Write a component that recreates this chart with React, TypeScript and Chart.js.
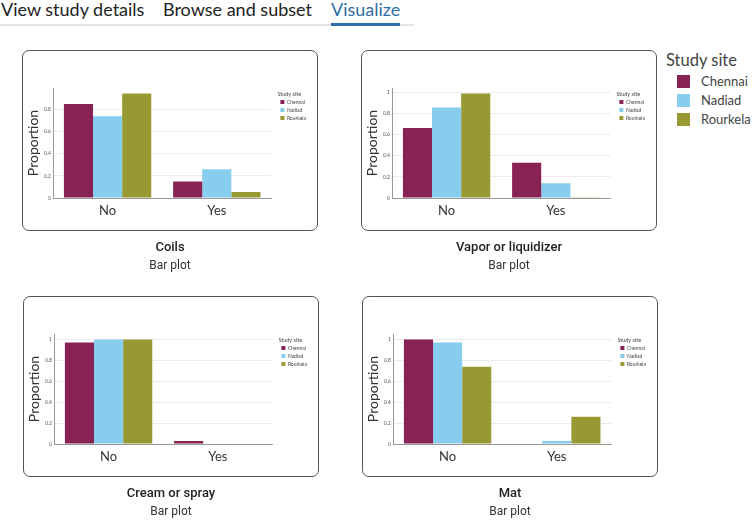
import React, { useEffect, useRef } from 'react';
import { Chart, registerables } from 'chart.js';

Chart.register(...registerables);
Chart.defaults.font.family = 'Lato';

// ---- data ----
const categories = ['No', 'Yes'];
const sites = ['Chennai', 'Nadiad', 'Rourkela'];
const siteColors = ['#882255', '#88CCEE', '#999933'];
const tabs = ['View study details', 'Browse and subset', 'Visualize'];
const yTickStep = 0.2;

const coilsChennai = [0.85, 0.15];
const coilsNadiad = [0.74, 0.26];
const coilsRourkela = [0.945, 0.055];

const vaporChennai = [0.665, 0.335];
const vaporNadiad = [0.86, 0.14];
const vaporRourkela = [0.992, 0.008];

const creamChennai = [0.972, 0.028];
const creamNadiad = [1, 0];
const creamRourkela = [1, 0];

const matChennai = [1, 0];
const matNadiad = [0.972, 0.028];
const matRourkela = [0.74, 0.26];

const panelTitles = ['Coils', 'Vapor or liquidizer', 'Cream or spray', 'Mat'];
const panelSeries = [
  [coilsChennai, coilsNadiad, coilsRourkela],
  [vaporChennai, vaporNadiad, vaporRourkela],
  [creamChennai, creamNadiad, creamRourkela],
  [matChennai, matNadiad, matRourkela],
];

// ---- layout ----
const cardBoxes = [
  { left: 22, top: 50, width: 296, height: 181 },
  { left: 361, top: 50, width: 296, height: 181 },
  { left: 23, top: 296, width: 296, height: 181 },
  { left: 362, top: 296, width: 296, height: 181 },
];
const PLOT_LEFT = 31;
const PLOT_TOP = 38;
const PLOT_BOTTOM = 148;

function BarCard({ title, series, box }: { title: string; series: number[][]; box: any }) {
  const ref = useRef<HTMLCanvasElement>(null);
  useEffect(() => {
    const canvas = ref.current!;
    const maxVal = Math.max(...series.flat());
    const H = box.height;
    const chart = new Chart(canvas, {
      type: 'bar',
      data: {
        labels: categories,
        datasets: sites.map((s, i) => ({
          label: s,
          data: series[i],
          backgroundColor: siteColors[i],
          borderWidth: 0,
          categoryPercentage: 0.8,
          barPercentage: 1,
        })),
      },
      options: {
        responsive: false,
        maintainAspectRatio: false,
        animation: false,
        layout: { padding: { left: 0, top: PLOT_TOP, right: 2, bottom: 0 } },
        plugins: {
          tooltip: { enabled: false },
          legend: {
            position: 'right',
            align: 'start',
            title: {
              display: true,
              text: 'Study site',
              position: 'start',
              color: '#444',
              font: { family: 'Lato', size: 5.5, lineHeight: 1 },
              padding: { top: 3, bottom: 0 },
            },
            labels: {
              boxWidth: 4,
              boxHeight: 4,
              padding: 3,
              color: '#444',
              font: { family: 'Lato', size: 5 },
            },
          },
        },
        scales: {
          x: {
            grid: { display: false, drawTicks: false },
            border: { color: '#999', width: 1 },
            ticks: { padding: 5, color: '#333', font: { family: 'Lato', size: 13 } },
            afterFit: (s: any) => {
              s.height = H - PLOT_BOTTOM;
            },
          },
          y: {
            min: 0,
            max: maxVal * 1.053,
            ticks: {
              stepSize: yTickStep,
              includeBounds: false,
              autoSkip: false,
              padding: 2,
              color: '#555',
              font: { family: 'Lato', size: 5 },
              callback: (v: any) => String(Number(Number(v).toFixed(2))),
            },
            grid: {
              drawTicks: false,
              color: (c: any) => (c.tick && c.tick.value === 0 ? 'rgba(0,0,0,0)' : '#ececec'),
            },
            border: { color: '#999', width: 1 },
            title: {
              display: true,
              text: 'Proportion',
              color: '#333',
              font: { family: 'Lato', size: 14 },
              padding: { top: 3, bottom: 0 },
            },
            afterFit: (s: any) => {
              s.width = PLOT_LEFT;
            },
          },
          yPad: {
            type: 'linear',
            position: 'right',
            display: true,
            grid: { display: false },
            border: { display: false },
            ticks: { display: false },
            afterFit: (s: any) => {
              s.width = 6;
            },
          },
        },
      } as any,
    });
    return () => chart.destroy();
  }, []);

  const bottom = box.top + box.height;
  return (
    <>
      <div style={{ position: 'absolute', left: box.left, top: box.top, width: box.width, height: box.height }}>
        <canvas
          ref={ref}
          width={box.width}
          height={box.height}
          style={{ position: 'absolute', left: 0, top: 0, width: box.width, height: box.height }}
        />
        <div
          style={{
            position: 'absolute',
            left: 0,
            top: 0,
            width: box.width,
            height: box.height,
            boxSizing: 'border-box',
            border: '1.5px solid #555',
            borderRadius: 7,
            pointerEvents: 'none',
          }}
        />
      </div>
      <div
        style={{
          position: 'absolute',
          left: box.left,
          top: bottom + 8,
          width: box.width,
          height: 16,
          lineHeight: '16px',
          textAlign: 'center',
          fontFamily: 'Roboto',
          fontWeight: 500,
          fontSize: 13,
          color: '#222',
        }}
      >
        {title}
      </div>
      <div
        style={{
          position: 'absolute',
          left: box.left,
          top: bottom + 26,
          width: box.width,
          height: 16,
          lineHeight: '16px',
          textAlign: 'center',
          fontFamily: 'Roboto',
          fontSize: 12,
          color: '#333',
        }}
      >
        Bar plot
      </div>
    </>
  );
}

const tabLefts = [1, 163, 331];

export default function App() {
  return (
    <div
      style={{
        position: 'absolute',
        left: 0,
        top: 0,
        width: 754,
        height: 520,
        background: '#fff',
        overflow: 'hidden',
        fontFamily: 'Lato',
      }}
    >
      {tabs.map((t, i) => (
        <div
          key={t}
          style={{
            position: 'absolute',
            left: tabLefts[i],
            top: -1,
            fontSize: 18,
            lineHeight: '20px',
            whiteSpace: 'nowrap',
            color: i === 2 ? '#2f6fa7' : '#222',
          }}
        >
          {t}
        </div>
      ))}
      <div style={{ position: 'absolute', left: 0, top: 24, width: 414, height: 2, background: '#e4e4e4' }} />
      <div style={{ position: 'absolute', left: 331, top: 23, width: 69, height: 3, background: '#2f6fa7' }} />

      {panelTitles.map((t, i) => (
        <BarCard key={t} title={t} series={panelSeries[i]} box={cardBoxes[i]} />
      ))}

      <div
        style={{
          position: 'absolute',
          left: 666,
          top: 50,
          fontSize: 16.5,
          lineHeight: '20px',
          color: '#444',
          whiteSpace: 'nowrap',
        }}
      >
        Study site
      </div>
      {sites.map((s, i) => (
        <React.Fragment key={s}>
          <div
            style={{
              position: 'absolute',
              left: 677,
              top: 75 + i * 19,
              width: 13,
              height: 13,
              background: siteColors[i],
            }}
          />
          <div
            style={{
              position: 'absolute',
              left: 701,
              top: 72 + i * 19,
              fontSize: 13,
              lineHeight: '18px',
              color: '#444',
              whiteSpace: 'nowrap',
            }}
          >
            {s}
          </div>
        </React.Fragment>
      ))}
    </div>
  );
}
